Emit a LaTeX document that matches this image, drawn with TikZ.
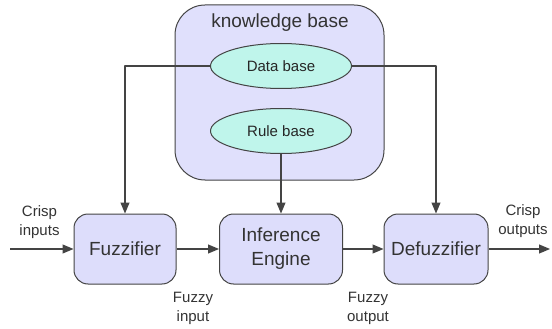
\documentclass[tikz,border=0pt]{standalone}
\usepackage{fontspec}
\setmainfont{Liberation Sans}
\usetikzlibrary{arrows.meta,positioning,shapes.geometric}
\definecolor{boxfill}{HTML}{DDDDFB}
\definecolor{kbfill}{HTML}{E0E0FC}
\definecolor{ellfill}{HTML}{BFF5EB}
\definecolor{linegray}{HTML}{444444}
\definecolor{textgray}{HTML}{333333}

\begin{document}
\begin{tikzpicture}[x=1pt,y=-1pt,node distance=156pt,>={Triangle[length=11pt,width=9pt]},line join=bevel,
  block/.style={draw=linegray,fill=boxfill,rounded corners=14pt,line width=1pt,minimum height=70pt,text=textgray,font=\fontsize{19}{24}\selectfont,align=center},
  base/.style={ellipse,draw=linegray,fill=ellfill,line width=1pt,minimum width=141pt,minimum height=45pt,inner sep=0pt,text=black!85,font=\fontsize{15}{18}\selectfont},
  lbl/.style={text=textgray,align=center,font=\fontsize{15}{19}\selectfont},
  conn/.style={draw=linegray,line width=1.2pt}]
\useasboundingbox (0,0) rectangle (552,329);
\node [draw=linegray,fill=kbfill,rounded corners=30pt,line width=1pt,minimum width=209pt,minimum height=175pt] at (279.5,92.5) (kb) {};
\node [text=textgray,font=\fontsize{19}{22}\selectfont] at (280,23) (kbl) {knowledge base};
\node [base] at (281,66) (db) {Data base};
\node [base] at (281,131) (rb) {Rule base};

\node [block,minimum width=102pt] at (125,249) (fuzz) {Fuzzifier};
\node [block,minimum width=123pt,right of=fuzz] (inf) {Inference\\Engine};
\node [block,minimum width=104pt,right of=inf,node distance=155pt] (defuzz) {Defuzzifier};

\coordinate (in) at (10,249);
\coordinate (out) at (550,249);

\draw [conn,->] (in) -- (fuzz);
\draw [conn,->] (fuzz) -- (inf);
\draw [conn,->] (inf) -- (defuzz);
\draw [conn,->] (defuzz) -- (out);
\draw [conn,->] (db.west) -| (fuzz.north);
\draw [conn,->] (db.east) -| (defuzz.north);
\draw [conn,->] (rb.south) -- (rb.south |- inf.north);

\node [lbl] at (39.5,222) (cin) {Crisp\\inputs};
\node [lbl] at (523,221) (cout) {Crisp\\outputs};
\node [lbl] at (193,308) (fin) {Fuzzy\\input};
\node [lbl] at (368,308) (fout) {Fuzzy\\output};
\end{tikzpicture}
\end{document}
